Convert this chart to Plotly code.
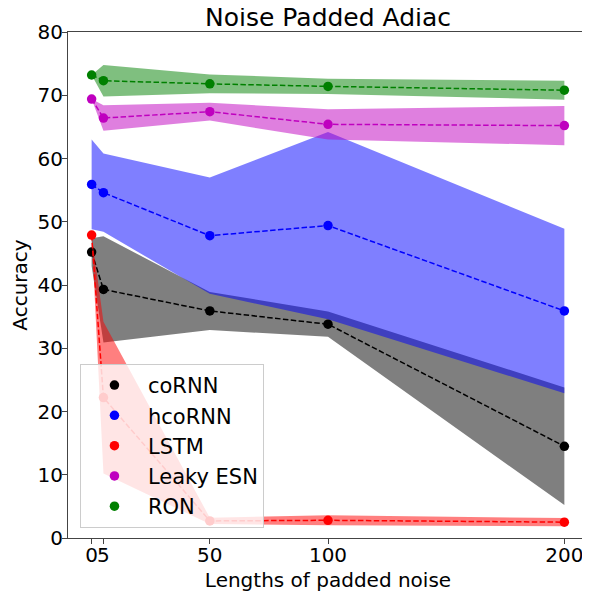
import plotly.graph_objects as go

lengths = [0, 5, 50, 100, 200]
models = ["coRNN", "hcoRNN", "LSTM", "Leaky ESN", "RON"]

cornn_mean = [45.2, 39.3, 35.9, 33.8, 14.5]
cornn_std = [2.2, 8.4, 3.0, 2.0, 9.3]
hcornn_mean = [55.9, 54.6, 47.8, 49.4, 35.9]
hcornn_std = [7.1, 6.2, 9.2, 14.8, 13.0]
lstm_mean = [47.9, 22.2, 2.7, 2.8, 2.5]
lstm_std = [0.0, 12.0, 0.5, 0.8, 0.65]
esn_mean = [69.4, 66.4, 67.4, 65.4, 65.2]
esn_std = [0.0, 2.0, 1.4, 2.4, 3.1]
ron_mean = [73.2, 72.3, 71.8, 71.4, 70.8]
ron_std = [0.0, 2.5, 1.5, 1.2, 1.5]

means = [cornn_mean, hcornn_mean, lstm_mean, esn_mean, ron_mean]
stds = [cornn_std, hcornn_std, lstm_std, esn_std, ron_std]
colors = ["rgb(0,0,0)", "rgb(0,0,255)", "rgb(255,0,0)", "rgb(191,0,191)", "rgb(0,128,0)"]
fills = ["rgba(0,0,0,0.5)", "rgba(0,0,255,0.5)", "rgba(255,0,0,0.5)",
         "rgba(191,0,191,0.5)", "rgba(0,128,0,0.5)"]

fig = go.Figure()
for name, m, s, c, f in zip(models, means, stds, colors, fills):
    upper = [a + b for a, b in zip(m, s)]
    lower = [a - b for a, b in zip(m, s)]
    fig.add_trace(go.Scatter(
        x=lengths + lengths[::-1], y=upper + lower[::-1],
        fill="toself", fillcolor=f, line=dict(width=0), mode="lines",
        showlegend=False, hoverinfo="skip"))
    fig.add_trace(go.Scatter(
        x=lengths, y=m, mode="lines",
        line=dict(color=c, width=1.5, dash="5.5px,2.4px"),
        showlegend=False))
    fig.add_trace(go.Scatter(
        x=lengths, y=m, mode="markers", name=name,
        marker=dict(color=c, size=9.5)))

axis_common = dict(
    showgrid=False, zeroline=False, showline=True, linecolor="#444", linewidth=1,
    mirror=True, ticks="outside", ticklen=5, tickcolor="#444", automargin=False,
    tickfont=dict(size=20, color="black"),
)
fig.update_xaxes(range=[-10, 210], tickvals=lengths, ticktext=[str(v) for v in lengths],
                 tickangle=0, ticklabelstandoff=-6,
                 title=dict(text="Lengths of padded noise", font=dict(size=20, color="black"),
                            standoff=10),
                 **axis_common)
fig.update_yaxes(range=[0, 80], tickvals=[0, 10, 20, 30, 40, 50, 60, 70, 80],
                 ticklabelstandoff=-5,
                 title=dict(text="Accuracy", font=dict(size=20, color="black"), standoff=11),
                 **axis_common)

fig.update_layout(
    width=582, height=584,
    margin=dict(l=60, r=2, t=24, b=54),
    paper_bgcolor="white", plot_bgcolor="white",
    font=dict(family="DejaVu Sans", color="black"),
    title=dict(text="Noise Padded Adiac", x=0.55, xanchor="center", y=0.984, yanchor="middle",
               font=dict(size=25, color="black")),
    legend=dict(x=0.023, y=0.02, xanchor="left", yanchor="bottom",
                bgcolor="rgba(255,255,255,0.8)", bordercolor="#cccccc", borderwidth=1,
                font=dict(size=21, color="black"), itemwidth=57, tracegroupgap=0),
)

fig.write_html("out.html")
